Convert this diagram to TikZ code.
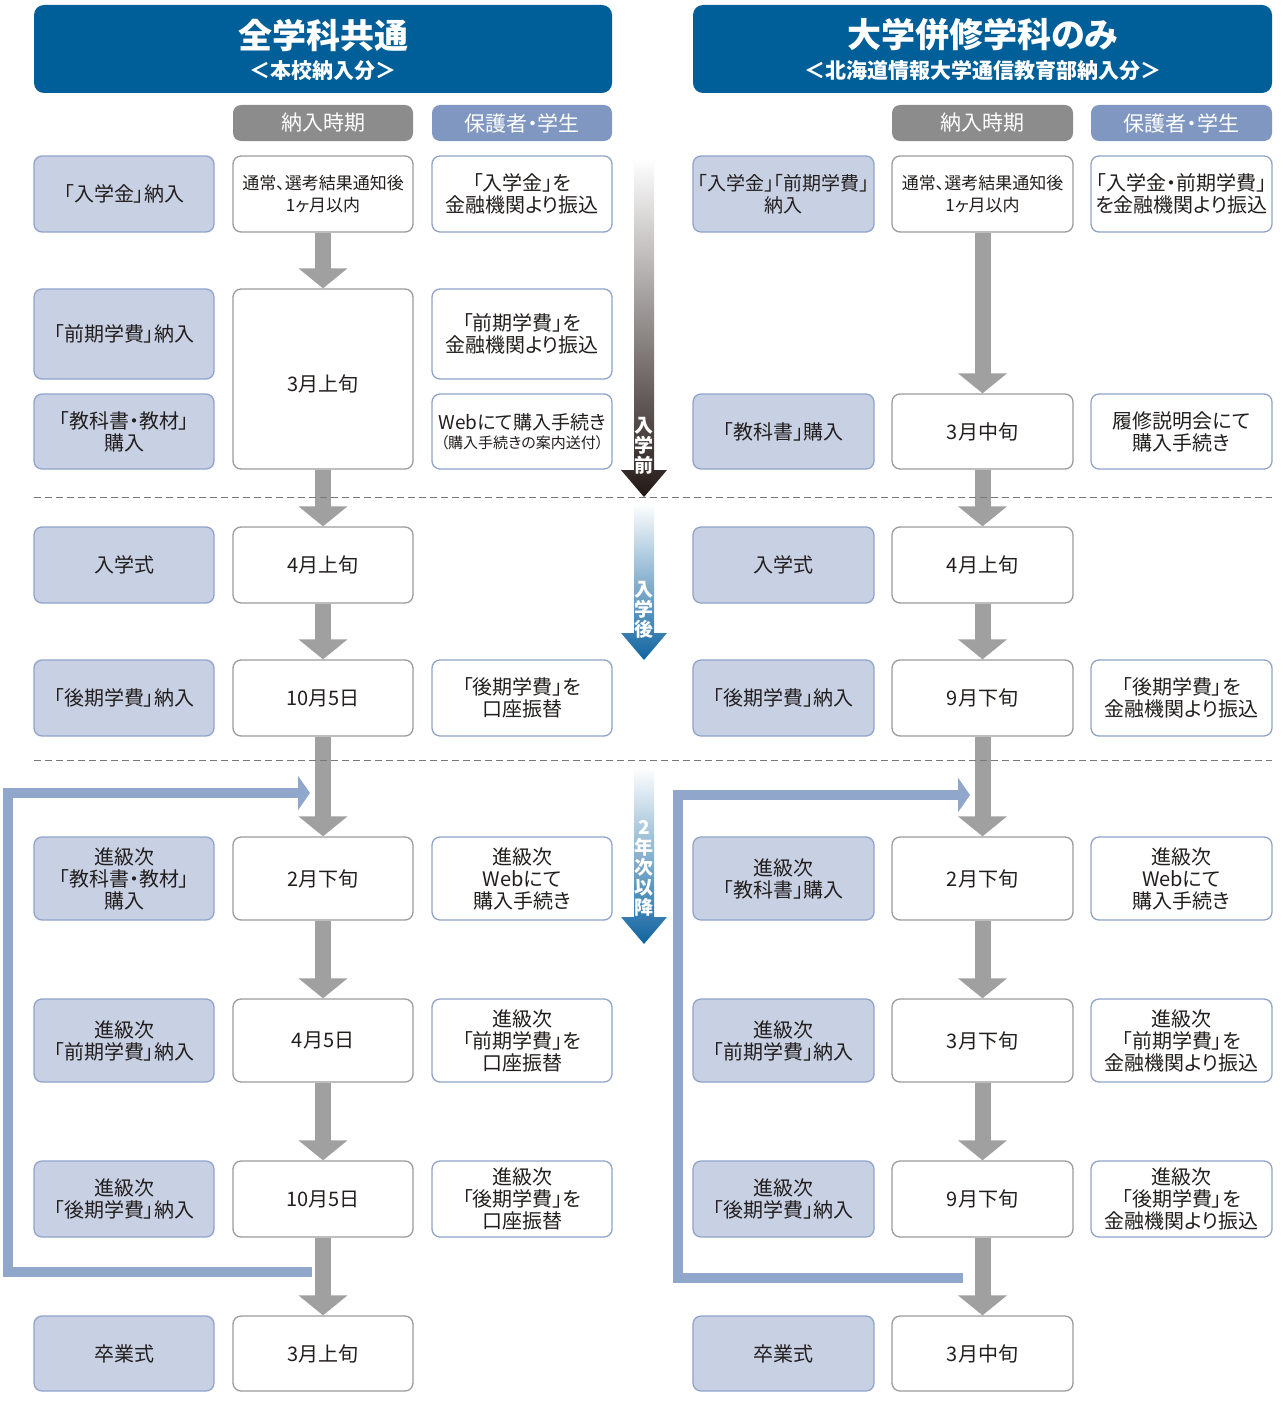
\documentclass[tikz,border=0pt]{standalone}
\usepackage{fontspec}
\setmainfont{Noto Sans CJK JP}[RawFeature=+palt]
\usetikzlibrary{arrows.meta}
\definecolor{hdblue}{RGB}{0,94,152}
\definecolor{subgray}{RGB}{140,140,140}
\definecolor{subblue}{RGB}{127,151,193}
\definecolor{lfill}{RGB}{200,209,228}
\definecolor{lborder}{RGB}{143,163,203}
\definecolor{mborder}{RGB}{155,155,155}
\definecolor{arrgray}{RGB}{160,160,160}
\definecolor{loopblue}{RGB}{145,166,203}
\definecolor{txt}{RGB}{35,30,30}
\definecolor{darkarr}{RGB}{35,24,21}
\definecolor{bluearr}{RGB}{16,100,160}
\definecolor{dashgray}{RGB}{120,120,120}
\begin{document}
\begin{tikzpicture}[x=1pt,y=-1pt,
  basebox/.style={rounded corners=8pt, line width=1.3pt, inner sep=0pt, align=center, text=txt,
    font=\fontsize{20pt}{22pt}\selectfont},
  lbox/.style={basebox, fill=lfill, draw=lborder, minimum width=180pt},
  mbox/.style={basebox, fill=white, draw=mborder, minimum width=180pt},
  rbox/.style={basebox, fill=white, draw=lborder, minimum width=180pt},
  hdr/.style={fill=hdblue, rounded corners=10pt, inner sep=0pt, minimum height=88pt},
  subhd/.style={rounded corners=8pt, inner sep=0pt, minimum width=180pt, minimum height=36pt,
    text=white, font=\fontsize{21pt}{22pt}\selectfont},
  ttl/.style={text=white, inner sep=0pt, font=\bfseries\fontsize{34pt}{36pt}\selectfont},
  subttl/.style={text=white, inner sep=0pt, font=\bfseries\fontsize{21pt}{24pt}\selectfont},
  flow/.style={draw=arrgray, line width=16pt, -{Triangle[width=48pt,length=20pt]}},
  loopline/.style={draw=loopblue, line width=10pt, line join=miter, -{Triangle[width=34pt,length=12pt]}},
  dashline/.style={draw=dashgray, line width=1pt, dash pattern=on 7pt off 4pt},
  vtext/.style={text=white, inner sep=0pt, align=center, font=\bfseries\fontsize{19pt}{20pt}\selectfont}
]
\useasboundingbox (0,0) rectangle (1282,1402);

% ---------- headers ----------
\node[hdr, minimum width=578pt] (H1) at (323,49) {};
\node[ttl] (H1t) at (323,35) {全学科共通};
\node[subttl] (H1s) at (323,71) {＜本校納入分＞};
\node[hdr, minimum width=579pt] (H2) at (982.5,49) {};
\node[ttl] (H2t) at (982.5,35) {大学併修学科のみ};
\node[subttl] (H2s) at (982.5,71) {＜北海道情報大学通信教育部納入分＞};

\node[subhd, fill=subgray] (S1) at (323,123) {納入時期};
\node[subhd, fill=subblue] (S2) at (522,123) {保護者・学生};
\node[subhd, fill=subgray, minimum width=181pt] (S3) at (982.5,123) {納入時期};
\node[subhd, fill=subblue, minimum width=181pt] (S4) at (1181.5,123) {保護者・学生};

% ---------- progress arrows ----------
\shade[top color=white, bottom color=darkarr] (634,158) -- (654,158) -- (654,470) -- (667,470) -- (644,497) -- (621,470) -- (634,470) -- cycle;
\shade[top color=white, bottom color=bluearr] (634,503) -- (654,503) -- (654,633) -- (667,633) -- (644,660) -- (621,633) -- (634,633) -- cycle;
\shade[top color=white, bottom color=bluearr] (634,767) -- (654,767) -- (654,917) -- (667,917) -- (644,944) -- (621,917) -- (634,917) -- cycle;
\node[vtext] (V1) at (644,446) {入\\学\\前};
\node[vtext] (V2) at (644,610) {入\\学\\後};
\node[vtext] (V3) at (644,868) {2\\年\\次\\以\\降};

% ---------- left column ----------
\node[lbox, minimum height=76pt] (L1a) at (124,194) {「入学金」納入};
\node[mbox, minimum height=76pt, font=\fontsize{17pt}{22pt}\selectfont] (L1b) at (323,194) {通常、選考結果通知後\\1ヶ月以内};
\node[rbox, minimum height=76pt] (L1c) at (522,194) {「入学金」を\\金融機関より振込};

\node[lbox, minimum height=90pt] (L2a) at (124,334) {「前期学費」納入};
\node[mbox, minimum height=180pt] (L2b) at (323,379) {\raisebox{-12.5pt}[0pt][0pt]{3月上旬}};
\node[rbox, minimum height=90pt] (L2c) at (522,334) {「前期学費」を\\金融機関より振込};

\node[lbox, minimum height=75pt] (L3a) at (124,431.5) {「教科書・教材」\\購入};
\node[rbox, minimum height=75pt, font=\fontsize{19pt}{22pt}\selectfont] (L3c) at (522,431.5) {Webにて購入手続き\\[-3pt]{\fontsize{15pt}{16pt}\selectfont （購入手続きの案内送付）}};

\node[lbox, minimum height=76pt] (L4a) at (124,565) {入学式};
\node[mbox, minimum height=76pt] (L4b) at (323,565) {4月上旬};

\node[lbox, minimum height=76pt] (L5a) at (124,698) {「後期学費」納入};
\node[mbox, minimum height=76pt] (L5b) at (323,698) {10月5日};
\node[rbox, minimum height=76pt] (L5c) at (522,698) {「後期学費」を\\口座振替};

\node[lbox, minimum height=83pt] (L6a) at (124,878.5) {進級次\\「教科書・教材」\\購入};
\node[mbox, minimum height=83pt] (L6b) at (323,878.5) {2月下旬};
\node[rbox, minimum height=83pt] (L6c) at (522,878.5) {進級次\\Webにて\\購入手続き};

\node[lbox, minimum height=83pt] (L7a) at (124,1040.5) {進級次\\「前期学費」納入};
\node[mbox, minimum height=83pt] (L7b) at (323,1040.5) {4月5日};
\node[rbox, minimum height=83pt] (L7c) at (522,1040.5) {進級次\\「前期学費」を\\口座振替};

\node[lbox, minimum height=76pt] (L8a) at (124,1199) {進級次\\「後期学費」納入};
\node[mbox, minimum height=76pt] (L8b) at (323,1199) {10月5日};
\node[rbox, minimum height=76pt] (L8c) at (522,1199) {進級次\\「後期学費」を\\口座振替};

\node[lbox, minimum height=75pt] (L9a) at (124,1353.5) {卒業式};
\node[mbox, minimum height=75pt] (L9b) at (323,1353.5) {3月上旬};

% ---------- right column ----------
\begin{scope}[lbox/.append style={minimum width=181pt}, mbox/.append style={minimum width=181pt}, rbox/.append style={minimum width=181pt}]
\node[lbox, minimum height=76pt, font=\fontsize{19pt}{22pt}\selectfont] (R1a) at (783.5,194) {「入学金」「前期学費」\\納入};
\node[mbox, minimum height=76pt, font=\fontsize{17pt}{22pt}\selectfont] (R1b) at (982.5,194) {通常、選考結果通知後\\1ヶ月以内};
\node[rbox, minimum height=76pt] (R1c) at (1181.5,194) {「入学金・前期学費」\\を金融機関より振込};

\node[lbox, minimum height=75pt] (R3a) at (783.5,431.5) {「教科書」購入};
\node[mbox, minimum height=75pt] (R3b) at (982.5,431.5) {3月中旬};
\node[rbox, minimum height=75pt] (R3c) at (1181.5,431.5) {履修説明会にて\\購入手続き};

\node[lbox, minimum height=76pt] (R4a) at (783.5,565) {入学式};
\node[mbox, minimum height=76pt] (R4b) at (982.5,565) {4月上旬};

\node[lbox, minimum height=76pt] (R5a) at (783.5,698) {「後期学費」納入};
\node[mbox, minimum height=76pt] (R5b) at (982.5,698) {9月下旬};
\node[rbox, minimum height=76pt] (R5c) at (1181.5,698) {「後期学費」を\\金融機関より振込};

\node[lbox, minimum height=83pt] (R6a) at (783.5,878.5) {進級次\\「教科書」購入};
\node[mbox, minimum height=83pt] (R6b) at (982.5,878.5) {2月下旬};
\node[rbox, minimum height=83pt] (R6c) at (1181.5,878.5) {進級次\\Webにて\\購入手続き};

\node[lbox, minimum height=83pt] (R7a) at (783.5,1040.5) {進級次\\「前期学費」納入};
\node[mbox, minimum height=83pt] (R7b) at (982.5,1040.5) {3月下旬};
\node[rbox, minimum height=83pt] (R7c) at (1181.5,1040.5) {進級次\\「前期学費」を\\金融機関より振込};

\node[lbox, minimum height=76pt] (R8a) at (783.5,1199) {進級次\\「後期学費」納入};
\node[mbox, minimum height=76pt] (R8b) at (982.5,1199) {9月下旬};
\node[rbox, minimum height=76pt] (R8c) at (1181.5,1199) {進級次\\「後期学費」を\\金融機関より振込};

\node[lbox, minimum height=75pt] (R9a) at (783.5,1353.5) {卒業式};
\node[mbox, minimum height=75pt] (R9b) at (982.5,1353.5) {3月中旬};
\end{scope}

% ---------- flow arrows ----------
\draw[flow] (L1b.south) -- (L2b.north);
\draw[flow] (L2b.south) -- (L4b.north);
\draw[flow] (L4b.south) -- (L5b.north);
\draw[flow] (L5b.south) -- (L6b.north);
\draw[flow] (L6b.south) -- (L7b.north);
\draw[flow] (L7b.south) -- (L8b.north);
\draw[flow] (L8b.south) -- (L9b.north);

\draw[flow] (R1b.south) -- (R3b.north);
\draw[flow] (R3b.south) -- (R4b.north);
\draw[flow] (R4b.south) -- (R5b.north);
\draw[flow] (R5b.south) -- (R6b.north);
\draw[flow] (R6b.south) -- (R7b.north);
\draw[flow] (R7b.south) -- (R8b.north);
\draw[flow] (R8b.south) -- (R9b.north);

% ---------- loop arrows ----------
\coordinate (LLs) at (312,1272);
\coordinate (LLb) at (8,1272);
\coordinate (LLt) at (8,793);
\coordinate (LLe) at (310,793);
\draw[loopline] (LLs) -- (LLb) -- (LLt) -- (LLe);
\coordinate (RLs) at (963,1278);
\coordinate (RLb) at (678,1278);
\coordinate (RLt) at (678,795);
\coordinate (RLe) at (970,795);
\draw[loopline] (RLs) -- (RLb) -- (RLt) -- (RLe);

% ---------- dashed separators ----------
\coordinate (D1a) at (34,497);
\coordinate (D1b) at (1272,497);
\coordinate (D2a) at (34,760);
\coordinate (D2b) at (1272,760);
\draw[dashline] (D1a) -- (D1b);
\draw[dashline] (D2a) -- (D2b);
\end{tikzpicture}
\end{document}
